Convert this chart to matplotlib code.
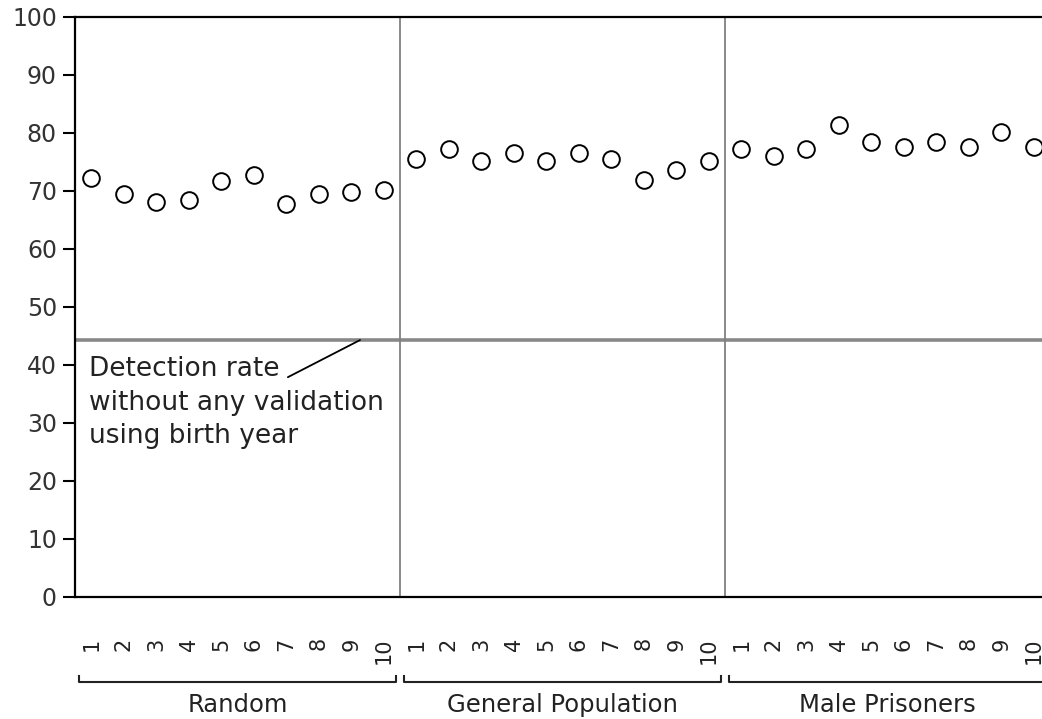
import numpy as np
import matplotlib
matplotlib.use('Agg')
from matplotlib import pyplot as plt

# values
groups = ['Random', 'General Population', 'Male Prisoners']
random_vals = [72.3, 69.4, 68.1, 68.5, 71.8, 72.7, 67.7, 69.4, 69.8, 70.1]
general_vals = [75.5, 77.3, 75.2, 76.5, 75.2, 76.5, 75.6, 71.9, 73.6, 75.2]
male_vals = [77.3, 76.1, 77.3, 81.4, 78.5, 77.6, 78.5, 77.6, 80.2, 77.6]
tick_labels = ['1', '2', '3', '4', '5', '6', '7', '8', '9', '10']
baseline = 44.3  # detection rate without validation
note = 'Detection rate\nwithout any validation\nusing birth year'

vals = np.array(random_vals + general_vals + male_vals)
x = np.arange(len(vals))
n = len(random_vals)

plt.rcParams['font.family'] = ['DejaVu Sans']
fig = plt.figure(figsize=(10.42, 7.19), dpi=100)
ax = fig.add_axes([75/1042, 1-597/719, 975/1042, 580/719])

ax.axhline(baseline, color='#888888', lw=2.6, zorder=1)
for g in range(1, len(groups)):
    ax.axvline(g*n - 0.5, color='#808080', lw=1.3, zorder=1)

ax.plot(x, vals, ls='none', marker='o', ms=12, mfc='white', mec='black', mew=1.4, zorder=3)

ax.set_xlim(-0.5, len(vals) - 0.5)
ax.set_ylim(0, 100)
ax.set_yticks(range(0, 101, 10))
ax.set_xticks(x)
ax.set_xticklabels(tick_labels * len(groups), rotation=90, va='top', fontsize=15, color='#222222')
ax.tick_params(axis='x', length=0, pad=29)
ax.tick_params(axis='y', length=9, width=1.5, pad=4, labelsize=17, labelcolor='#333333')

ax.spines['right'].set_visible(False)
for s in ['left', 'top', 'bottom']:
    ax.spines[s].set_linewidth(1.6)

# annotation for the baseline
ax.text(-0.07, 41.5, note, ha='left', va='top', fontsize=19, color='#222222', linespacing=1.36)
ax.annotate('', xy=(8.27, baseline), xytext=(6.05, 37.9),
            arrowprops=dict(arrowstyle='-', color='black', lw=1.3, shrinkA=0, shrinkB=0))

# group brackets + labels under the tick labels
tr = ax.get_xaxis_transform()
for g, name in enumerate(groups):
    x0, x1 = g*n - 0.38, g*n + n - 1 + 0.38
    ax.plot([x0, x0, x1, x1], [-0.137, -0.147, -0.147, -0.137], color='#222222', lw=1.5,
            transform=tr, clip_on=False)
    ax.text(g*n + (n-1)/2, -0.186, name, ha='center', va='center', fontsize=17.5,
            color='#222222', transform=tr)

fig.savefig('out.png', dpi=100)
